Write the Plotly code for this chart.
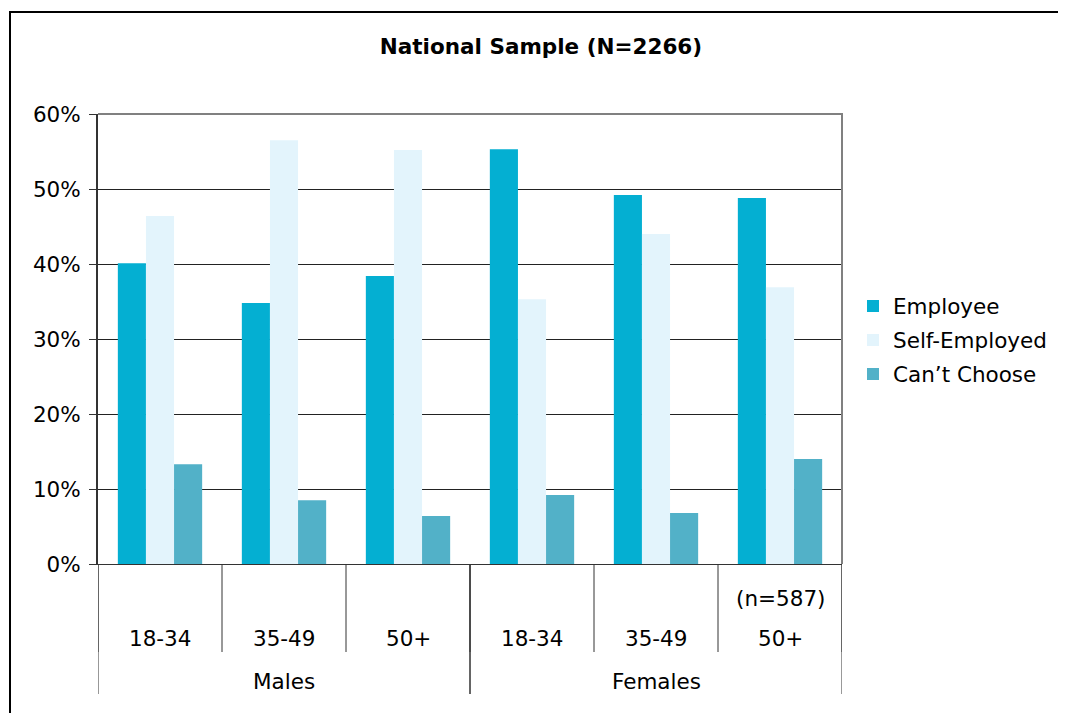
import plotly.graph_objects as go

# ---- data ----
groups = ["Males", "Females"]
ages = ["18-34", "35-49", "50+"]
categories = [f"{g} {a}" for g in groups for a in ages]
age_labels = [a for g in groups for a in ages]
group_of = [g for g in groups for a in ages]
notes = ["", "", "", "", "", "(n=587)"]

employee = [40.1, 34.8, 38.4, 55.3, 49.2, 48.8]
self_employed = [46.4, 56.5, 55.2, 35.3, 44.0, 36.9]
cant_choose = [13.3, 8.5, 6.4, 9.2, 6.8, 14.0]

series_names = ["Employee", "Self-Employed", "Can\u2019t Choose"]
series_values = [employee, self_employed, cant_choose]
series_colors = ["#04AFD2", "#E3F4FC", "#52B1C8"]

y_ticks = [0, 10, 20, 30, 40, 50, 60]
title_text = "National Sample (N=2266)"

# ---- layout geometry (pixels) ----
OFF = 8  # page body margin
W, H = 1066 - OFF, 713 - OFF
L, T = 98 - OFF, 114 - OFF
R = W - (842 - OFF)
B = H - (564 - OFF)
PW, PH = W - L - R, H - T - B
FONT = "DejaVu Sans"
FS = 21.5

def py(px):  # reference pixel y -> paper y
    return (H - B - (px - OFF)) / PH

def pxx(px):  # reference pixel x -> paper x
    return ((px - OFF) - L) / PW

fig = go.Figure()
for name, vals, col in zip(series_names, series_values, series_colors):
    fig.add_trace(go.Bar(
        x=categories, y=vals, name=name,
        marker=dict(color=col, line=dict(width=0)),
        legendgroup=name,
    ))

shapes = []
annotations = []
n = len(categories)
# inner boundary lines
for i in range(n + 1):
    shapes.append(dict(type="line", xref="x", yref="paper",
                       x0=i - 0.5, x1=i - 0.5, y0=0, y1=py(652),
                       line=dict(color="#333333", width=1)))
# outer group dividers and labels
for g in groups:
    members = [k for k in range(n) if group_of[k] == g]
    lo, hi = members[0], members[-1]
    for xb in (lo - 0.5, hi + 0.5):
        shapes.append(dict(type="line", xref="x", yref="paper",
                           x0=xb, x1=xb, y0=0, y1=py(694),
                           line=dict(color="#333333", width=1)))
    annotations.append(dict(xref="x", yref="paper", x=(lo + hi) / 2, y=py(681),
                            text=g, showarrow=False, yanchor="middle",
                            font=dict(family=FONT, size=FS, color="#000")))
for k in range(n):
    annotations.append(dict(xref="x", yref="paper", x=k, y=py(638),
                            text=age_labels[k], showarrow=False, yanchor="middle",
                            font=dict(family=FONT, size=FS, color="#000")))
    if notes[k]:
        annotations.append(dict(xref="x", yref="paper", x=k, y=py(598),
                                text=notes[k], showarrow=False, yanchor="middle",
                                font=dict(family=FONT, size=FS, color="#000")))

# plot area top/right border (gray)
shapes.append(dict(type="path", xref="paper", yref="paper",
                   path="M 0 1 L 1 1 L 1 0", line=dict(color="#808080", width=2)))
# outer chart frame
shapes.append(dict(type="rect", xref="paper", yref="paper",
                   x0=pxx(10), x1=1.6, y0=-0.6, y1=py(12),
                   line=dict(color="#000000", width=2)))

fig.update_layout(
    width=W, height=H,
    margin=dict(l=L, r=R, t=T, b=B, pad=0),
    paper_bgcolor="white", plot_bgcolor="white",
    font=dict(family=FONT, size=FS, color="#000"),
    title=dict(text="<b>" + title_text + "</b>", xref="container", yref="container",
               x=(541 - OFF) / W, y=1 - (46 - OFF) / H, xanchor="center", yanchor="middle",
               font=dict(family=FONT, size=FS, color="#000")),
    barmode="group", bargap=0.32, bargroupgap=0,
    xaxis=dict(type="category", showticklabels=False, ticks="", showgrid=False,
               showline=True, linecolor="#333333", linewidth=1,
               range=[-0.5, n - 0.5], zeroline=False),
    yaxis=dict(range=[0, 60], tickvals=y_ticks, ticktext=[f"{v}%" for v in y_ticks],
               showgrid=True, gridcolor="#222222", gridwidth=1,
               showline=True, linecolor="#333333", linewidth=2,
               ticks="outside", ticklen=7, tickcolor="#333333", tickwidth=1,
               zeroline=False, ticklabelstandoff=4,
               tickfont=dict(family=FONT, size=FS, color="#000")),
    legend=dict(x=pxx(853), y=py(340), xanchor="left", yanchor="middle",
                xref="paper", yref="paper", traceorder="grouped", tracegroupgap=3,
                font=dict(family=FONT, size=FS, color="#000"),
                bgcolor="rgba(0,0,0,0)"),
    shapes=shapes,
    annotations=annotations,
    hovermode=False,
)

fig.write_html("out.html")
